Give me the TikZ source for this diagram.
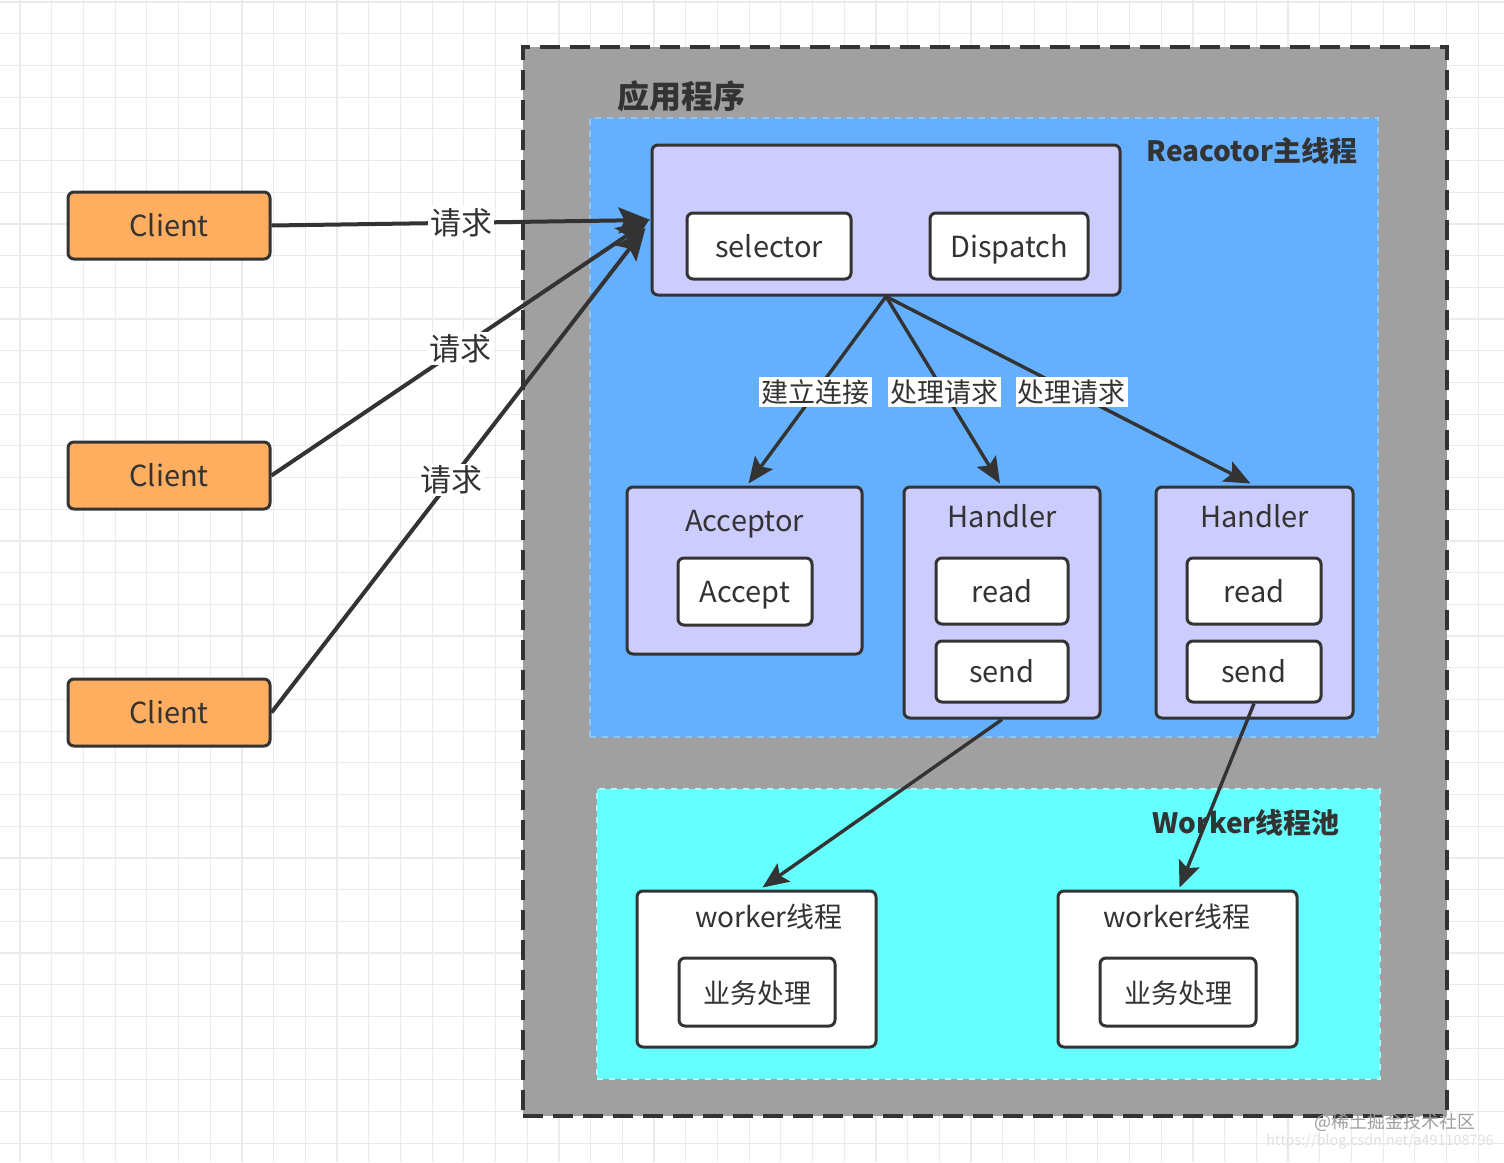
\documentclass[tikz,border=0pt]{standalone}
\usepackage{fontspec}
\setmainfont{Noto Sans CJK SC}
\usetikzlibrary{arrows.meta,calc}
\definecolor{ink}{HTML}{333333}
\definecolor{gridc}{HTML}{EBEBEB}
\definecolor{grayc}{HTML}{A0A0A0}
\definecolor{bluec}{HTML}{64B0FF}
\definecolor{blueedge}{HTML}{8EC6FF}
\definecolor{cyanc}{HTML}{66FFFF}
\definecolor{cyanedge}{HTML}{A8FFFF}
\definecolor{lavc}{HTML}{CCCCFF}
\definecolor{orangec}{HTML}{FFAD5F}
\begin{document}
\begin{tikzpicture}[x=0.5pt,y=-0.5pt,
  gridline/.style={draw=gridc, line width=0.6pt},
  box/.style={draw=ink, line width=1.5pt, rounded corners=3pt, inner sep=0pt,
              font=\fontsize{14.5}{16}\selectfont, text=ink},
  clientbox/.style={box, fill=orangec, minimum width=101pt, minimum height=33.5pt},
  lavbox/.style={box, fill=lavc},
  whitebox/.style={box, fill=white, text height=11.4pt, text depth=0pt},
  boxtitle/.style={inner sep=0pt, text=ink, font=\fontsize{14.5}{16}\selectfont},
  areatitle/.style={inner sep=0pt, text=ink, font=\bfseries\fontsize{14}{16}\selectfont},
  outerbox/.style={fill=grayc, draw=ink, line width=2pt, dash pattern=on 10pt off 5pt, inner sep=0pt},
  reqarrow/.style={draw=ink, line width=2pt, -{Stealth[length=16pt,width=13pt,inset=3pt]}},
  inarrow/.style={draw=ink, line width=1.7pt, -{Stealth[length=13pt,width=11pt,inset=2.5pt]}},
  reqlabel/.style={fill=white, inner sep=1pt, text=ink, font=\fontsize{15.5}{17}\selectfont},
  inlabel/.style={fill=white, inner sep=1.2pt, text=ink, font=\fontsize{13.5}{15}\selectfont}
]
\useasboundingbox (0,0) rectangle (1504,1162);
\fill[white] (0,0) rectangle (1504,1162);
% background grid
\foreach \i in {0,...,46} {\draw[gridline] ({20+31.7*\i},0) -- ({20+31.7*\i},1162);}
\foreach \i in {0,...,36} {\draw[gridline] (0,{2+31.7*\i}) -- (1504,{2+31.7*\i});}

% containers
\node[outerbox, minimum width=462pt, minimum height=534.5pt] (app) at (985,581.5) {};
\node[areatitle, font=\bfseries\fontsize{16}{18}\selectfont] (apptitle) at (681,96) {应用程序};
\node[fill=bluec, draw=blueedge, line width=1pt, dashed, inner sep=0pt,
      minimum width=394pt, minimum height=309.5pt] (reactor) at (984,427.5) {};
\node[areatitle] (reactortitle) at (1252,151) {Reacotor主线程};
\node[fill=cyanc, draw=cyanedge, line width=1pt, dashed, inner sep=0pt,
      minimum width=391.5pt, minimum height=145pt] (pool) at (988.5,934) {};
\node[areatitle] (pooltitle) at (1246,823) {Worker线程池};

% clients
\node[clientbox] (c1) at (169,225.5) {Client};
\node[clientbox] (c2) at (169,475.5) {Client};
\node[clientbox] (c3) at (169,712.5) {Client};

% reactor main box
\node[lavbox, minimum width=234pt, minimum height=75pt] (main) at (886,220) {};
\node[whitebox, minimum width=82pt, minimum height=33pt] (sel) at (769,246) {selector};
\node[whitebox, minimum width=79pt, minimum height=33pt] (disp) at (1009,246) {Dispatch};

% acceptor
\node[lavbox, minimum width=117.5pt, minimum height=83.5pt] (acc) at (744.5,570.5) {};
\node[boxtitle] (acct) at (744.5,524) {Acceptor};
\node[whitebox, minimum width=67pt, minimum height=33.5pt] (accept) at (745,591.5) {Accept};

% handlers
\node[lavbox, minimum width=98pt, minimum height=115.5pt] (h1) at (1002,602.5) {};
\node[boxtitle] (h1t) at (1002,516) {Handler};
\node[whitebox, minimum width=66pt, minimum height=33pt] (read1) at (1002,591) {read};
\node[whitebox, minimum width=66pt, minimum height=30.5pt] (send1) at (1002,671.5) {send};

\node[lavbox, minimum width=98.5pt, minimum height=115.5pt] (h2) at (1254.5,602.5) {};
\node[boxtitle] (h2t) at (1254.5,516) {Handler};
\node[whitebox, minimum width=67pt, minimum height=33pt] (read2) at (1254,591) {read};
\node[whitebox, minimum width=67pt, minimum height=30.5pt] (send2) at (1254,671.5) {send};

% workers
\node[box, fill=white, minimum width=119.5pt, minimum height=78pt] (w1) at (756.5,969) {};
\node[boxtitle, font=\fontsize{14}{16}\selectfont] (w1t) at (769,917) {worker线程};
\node[whitebox, minimum width=78pt, minimum height=34pt, font=\fontsize{13.5}{15}\selectfont] (biz1) at (757,992) {业务处理};

\node[box, fill=white, minimum width=119.5pt, minimum height=78pt] (w2) at (1177.5,969) {};
\node[boxtitle, font=\fontsize{14}{16}\selectfont] (w2t) at (1177,917) {worker线程};
\node[whitebox, minimum width=78pt, minimum height=34pt, font=\fontsize{13.5}{15}\selectfont] (biz2) at (1178,992) {业务处理};

% request connectors
\draw[reqarrow] (c1.east) -- (main.west) node[reqlabel, pos=0.5] {请求};
\draw[reqarrow] (c2.east) -- ($(main.west)+(-2,1)$) node[reqlabel, pos=0.5] {请求};
\draw[reqarrow] (c3.east) -- ($(main.west)+(-5,8)$) node[reqlabel, pos=0.48] {请求};

% reactor connectors
\draw[inarrow] (main.south) -- ($(acc.north)+(4,-2)$) node[inlabel, pos=0.51] {建立连接};
\draw[inarrow] (main.south) -- ($(h1.north)+(-2,-2)$) node[inlabel, pos=0.51] {处理请求};
\draw[inarrow] (main.south) -- ($(h2.north)+(-4,-2)$) node[inlabel, pos=0.51] {处理请求};

% worker connectors
\draw[inarrow] (h1.south) -- ($(w1.north)+(6,-2)$);
\draw[inarrow] (send2.south) -- ($(w2.north)+(2,-2)$);

% watermark
\node[inner sep=0pt, text=black!38, font=\fontsize{9}{10}\selectfont] (wm1) at (1395,1122) {@稀土掘金技术社区};
\node[inner sep=0pt, text=black!12, font=\fontsize{7.2}{8}\selectfont] (wm2) at (1380,1142) {https://blog.csdn.net/a491108796};
\end{tikzpicture}
\end{document}
